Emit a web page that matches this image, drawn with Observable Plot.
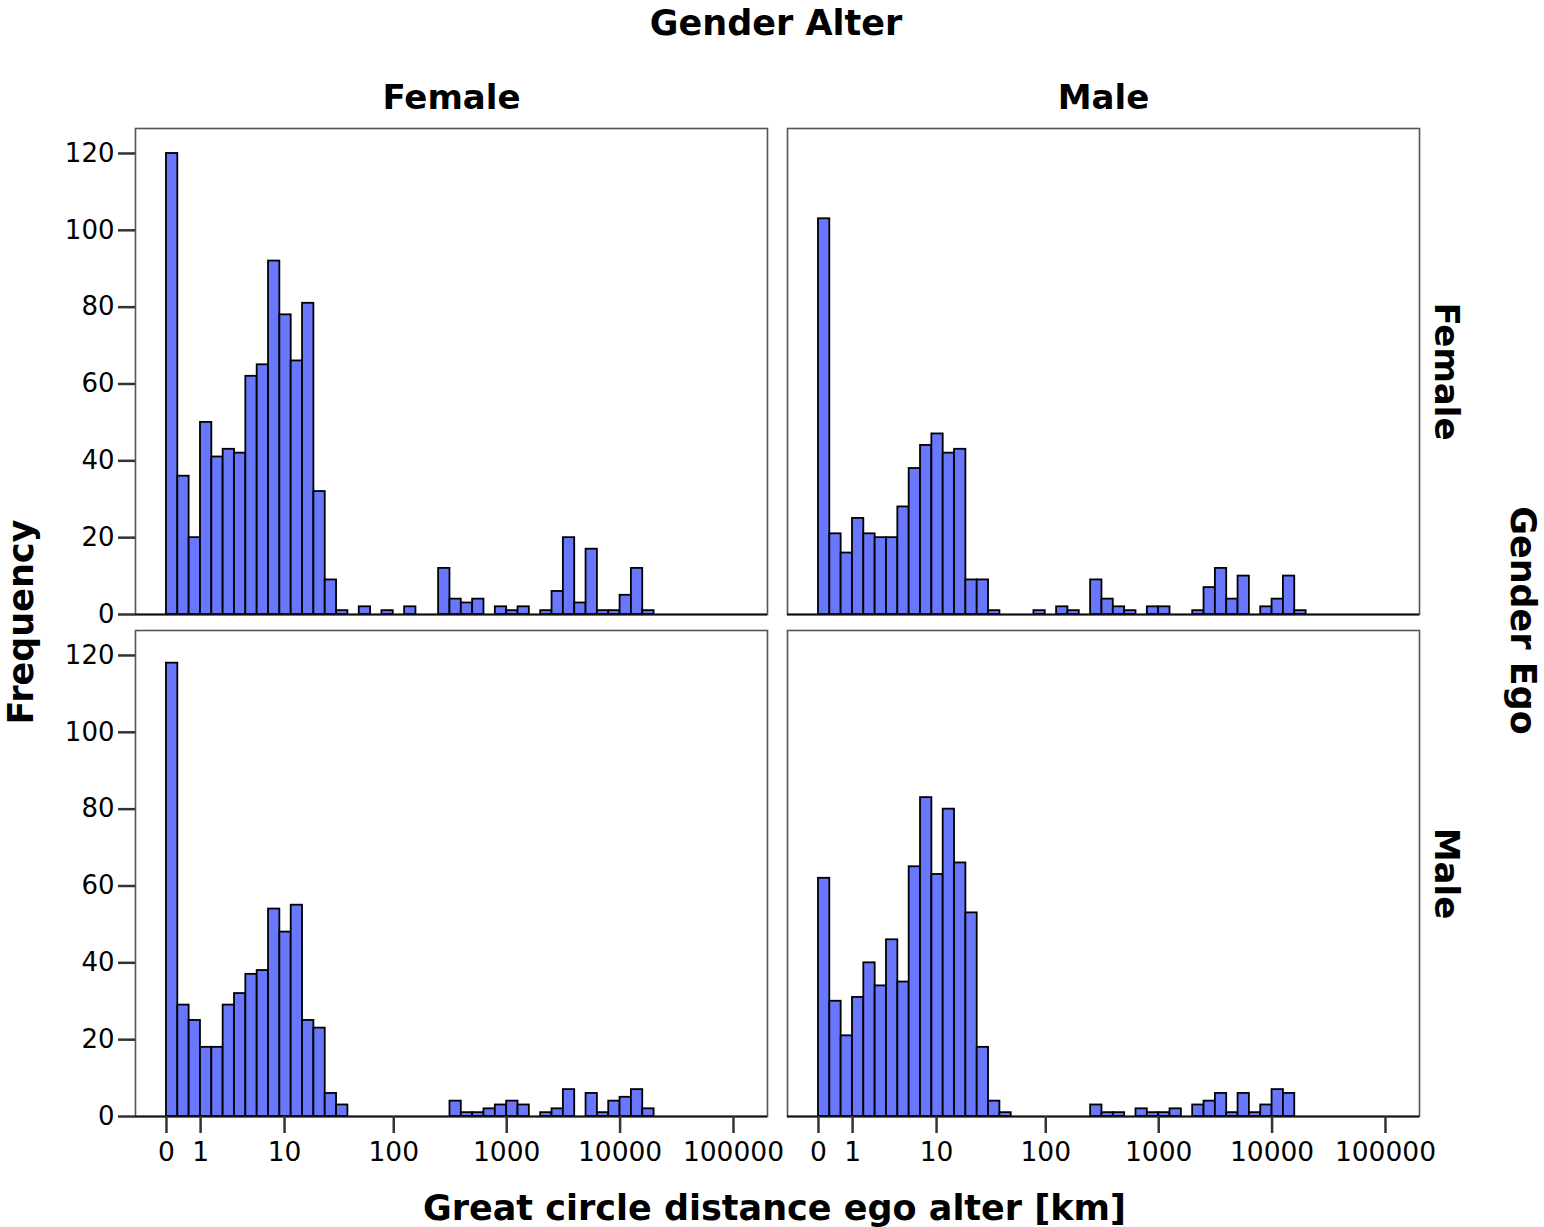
<!DOCTYPE html>
<html>
<head>
<meta charset="utf-8">
<script src="https://cdn.jsdelivr.net/npm/d3@7"></script>
<script src="https://cdn.jsdelivr.net/npm/@observablehq/plot@0.6"></script>
<style>
  html, body { margin: 0; padding: 0; background: #fff; }
  #chart svg { display: block; }
</style>
</head>
<body>
<div id="chart"></div>
<script>
// ---- data ----
const genders = ["Female", "Male"];
const distanceTicksKm = [0, 1, 10, 100, 1000, 10000, 100000];
const yTicks = [0, 20, 40, 60, 80, 100, 120];
const binWidthLog = 0.1; // bins in log10(km + 1)

// counts per bin, bin i covers [i*0.1, (i+1)*0.1) of log10(km+1)
const egoFemaleAlterFemale = [120, 36, 20, 50, 41, 43, 42, 62, 65, 92, 78, 66, 81, 32, 9, 1, 0, 2, 0, 1, 0, 2, 0, 0, 12, 4, 3, 4, 0, 2, 1, 2, 0, 1, 6, 20, 3, 17, 1, 1, 5, 12, 1];
const egoFemaleAlterMale   = [103, 21, 16, 25, 21, 20, 20, 28, 38, 44, 47, 42, 43, 9, 9, 1, 0, 0, 0, 1, 0, 2, 1, 0, 9, 4, 2, 1, 0, 2, 2, 0, 0, 1, 7, 12, 4, 10, 0, 2, 4, 10, 1];
const egoMaleAlterFemale   = [118, 29, 25, 18, 18, 29, 32, 37, 38, 54, 48, 55, 25, 23, 6, 3, 0, 0, 0, 0, 0, 0, 0, 0, 0, 4, 1, 1, 2, 3, 4, 3, 0, 1, 2, 7, 0, 6, 1, 4, 5, 7, 2];
const egoMaleAlterMale     = [62, 30, 21, 31, 40, 34, 46, 35, 65, 83, 63, 80, 66, 53, 18, 4, 1, 0, 0, 0, 0, 0, 0, 0, 3, 1, 1, 0, 2, 1, 1, 2, 0, 3, 4, 6, 1, 6, 1, 3, 7, 6, 0];

const panels = [
  {ego: "Female", alter: "Female", counts: egoFemaleAlterFemale},
  {ego: "Female", alter: "Male", counts: egoFemaleAlterMale},
  {ego: "Male", alter: "Female", counts: egoMaleAlterFemale},
  {ego: "Male", alter: "Male", counts: egoMaleAlterMale}
];

const bins = [];
for (const p of panels) {
  p.counts.forEach((c, i) => {
    if (c > 0) bins.push({ego: p.ego, alter: p.alter, x1: i * binWidthLog, x2: (i + 1) * binWidthLog, count: c});
  });
}

const toLog = (km) => Math.log10(km + 1);
const tickPositions = distanceTicksKm.map(toLog);
const tickLabel = new Map(distanceTicksKm.map(k => [toLog(k), String(k)]));

const bold = {fontWeight: "bold", fontSize: 35};

const chart = Plot.plot({
  width: 1544,
  height: 1227,
  marginLeft: 134,
  marginRight: 124,
  marginTop: 127,
  marginBottom: 110,
  style: {fontFamily: "'DejaVu Sans', sans-serif", fontSize: "26px", color: "black", background: "white"},
  fx: {domain: genders, paddingInner: 0.0306, paddingOuter: 0, axis: null},
  fy: {domain: genders, paddingInner: 0.0318, paddingOuter: 0, axis: null},
  x: {domain: [-0.273, 5.30], axis: null},
  y: {domain: [0, 126.5], axis: null},
  marks: [
    Plot.frame({stroke: "#555", strokeWidth: 1.6}),
    Plot.rectY(bins, {x1: "x1", x2: "x2", y: "count", fx: "alter", fy: "ego", fill: "#6877fb", stroke: "black", strokeWidth: 1.8}),
    Plot.ruleY([0], {stroke: "#111", strokeWidth: 2}),
    Plot.axisY({ticks: yTicks, tickSize: 17, tickPadding: 4, stroke: "#333", strokeWidth: 2.5, fill: "black", fontSize: 26, label: null}),
    Plot.axisX({ticks: tickPositions, tickFormat: d => tickLabel.get(d), tickSize: 17, tickPadding: 9, stroke: "#333", strokeWidth: 2.5, fill: "black", fontSize: 26.5, label: null}),
    // column headers (Gender Alter)
    Plot.text(genders, {fx: d => d, fy: () => "Female", text: d => d, frameAnchor: "top", lineAnchor: "middle", dy: -30.5, ...bold, fontSize: 34}),
    // row headers (Gender Ego)
    Plot.text(genders, {fx: () => "Male", fy: d => d, text: d => d, frameAnchor: "right", textAnchor: "middle", lineAnchor: "middle", rotate: 90, dx: 26.5, ...bold, fontSize: 34}),
    // outer titles
    Plot.text(["Gender Alter"], {fx: () => "Female", fy: () => "Female", text: d => d, frameAnchor: "top-right", textAnchor: "middle", lineAnchor: "middle", dx: 8.5, dy: -104.5, ...bold}),
    Plot.text(["Great circle distance ego alter [km]"], {fx: () => "Female", fy: () => "Male", text: d => d, frameAnchor: "bottom-right", textAnchor: "middle", lineAnchor: "middle", dx: 7, dy: 92, ...bold}),
    Plot.text(["Frequency"], {fx: () => "Female", fy: () => "Female", text: d => d, frameAnchor: "bottom-left", textAnchor: "middle", lineAnchor: "middle", rotate: -90, dx: -113.5, dy: 7.5, ...bold}),
    Plot.text(["Gender Ego"], {fx: () => "Male", fy: () => "Female", text: d => d, frameAnchor: "bottom-right", textAnchor: "middle", lineAnchor: "middle", rotate: 90, dx: 102.5, dy: 6, ...bold})
  ]
});

document.getElementById("chart").appendChild(chart);
</script>
</body>
</html>
